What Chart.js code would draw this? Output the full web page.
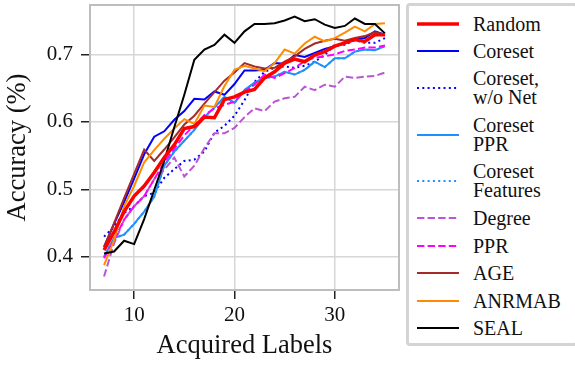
<!DOCTYPE html>
<html>
<head>
<meta charset="utf-8">
<script src="https://cdn.jsdelivr.net/npm/chart.js@4/dist/chart.umd.min.js"></script>
<style>
  body { margin: 0; background: #fff; font-family: "Liberation Serif", serif; }
  #wrap { position: relative; width: 575px; height: 366px; overflow: hidden; }
  #chart { position: absolute; left: 0; top: 0; }
  #legend {
    position: absolute; left: 406px; top: 3px; width: 166px; height: 337px;
    border: 3px solid #d4d4d4; border-radius: 4px; box-sizing: content-box;
  }
  .row { position: relative; height: 27.5px; }
  .row.two { height: 46.5px; }
  .row svg { position: absolute; left: 7px; top: 50%; margin-top: -3px; }
  .row span {
    position: absolute; left: 64px; top: 50%; transform: translateY(-50%);
    font-size: 20px; line-height: 19px; color: #111; white-space: pre;
  }
</style>
</head>
<body>
<div id="wrap">
  <canvas id="chart" width="405" height="366"></canvas>
  <div id="legend"></div>
</div>
<script>
// acquired labels on the x axis
const steps = [7, 8, 9, 10, 11, 12, 13, 14, 15, 16, 17, 18, 19, 20, 21,
  22, 23, 24, 25, 26, 27, 28, 29, 30, 31, 32, 33, 34, 35];

const random = [0.410, 0.437, 0.467, 0.490, 0.505, 0.525, 0.547, 0.566, 0.590, 0.593,
  0.607, 0.606, 0.633, 0.637, 0.644, 0.648, 0.665, 0.674, 0.687, 0.693,
  0.689, 0.699, 0.704, 0.712, 0.717, 0.722, 0.719, 0.729, 0.729];
const coreset = [0.415, 0.449, 0.481, 0.516, 0.552, 0.578, 0.586, 0.603, 0.616, 0.634,
  0.633, 0.645, 0.640, 0.656, 0.676, 0.676, 0.677, 0.687, 0.686, 0.699,
  0.696, 0.702, 0.708, 0.712, 0.716, 0.723, 0.724, 0.734, 0.729];
const coresetNoNet = [0.430, 0.445, 0.465, 0.475, 0.490, 0.495, 0.517, 0.530, 0.542, 0.544,
  0.556, 0.584, 0.594, 0.609, 0.632, 0.659, 0.674, 0.680, 0.682, 0.680,
  0.683, 0.689, 0.699, 0.714, 0.714, 0.721, 0.717, 0.717, 0.724];
const coresetPPR = [0.400, 0.428, 0.433, 0.449, 0.467, 0.489, 0.535, 0.556, 0.572, 0.588,
  0.607, 0.621, 0.637, 0.628, 0.647, 0.658, 0.665, 0.667, 0.674, 0.670,
  0.677, 0.689, 0.681, 0.694, 0.694, 0.704, 0.707, 0.706, 0.712];
const coresetFeatures = [0.400, 0.428, 0.433, 0.449, 0.467, 0.489, 0.535, 0.556, 0.572, 0.588,
  0.607, 0.621, 0.637, 0.628, 0.647, 0.658, 0.665, 0.667, 0.674, 0.670,
  0.677, 0.689, 0.681, 0.694, 0.694, 0.704, 0.707, 0.706, 0.712];
const degree = [0.371, 0.420, 0.455, 0.475, 0.490, 0.515, 0.529, 0.547, 0.519, 0.535,
  0.561, 0.583, 0.583, 0.591, 0.607, 0.620, 0.616, 0.630, 0.635, 0.637,
  0.652, 0.647, 0.655, 0.652, 0.667, 0.665, 0.667, 0.668, 0.673];
const ppr = [0.398, 0.425, 0.455, 0.475, 0.490, 0.515, 0.540, 0.560, 0.580, 0.595,
  0.610, 0.620, 0.625, 0.630, 0.645, 0.655, 0.670, 0.665, 0.672, 0.680,
  0.690, 0.695, 0.697, 0.700, 0.705, 0.707, 0.710, 0.710, 0.713];
const age = [0.415, 0.450, 0.487, 0.523, 0.559, 0.542, 0.559, 0.577, 0.596, 0.609,
  0.627, 0.644, 0.661, 0.673, 0.687, 0.682, 0.679, 0.680, 0.689, 0.697,
  0.708, 0.716, 0.720, 0.723, 0.720, 0.724, 0.727, 0.733, 0.729];
const anrmab = [0.388, 0.425, 0.475, 0.505, 0.540, 0.558, 0.575, 0.590, 0.604, 0.597,
  0.624, 0.622, 0.653, 0.677, 0.683, 0.679, 0.675, 0.687, 0.707, 0.701,
  0.716, 0.726, 0.719, 0.724, 0.732, 0.741, 0.734, 0.745, 0.746];
const seal = [0.405, 0.408, 0.424, 0.419, 0.456, 0.499, 0.542, 0.592, 0.640, 0.692,
  0.707, 0.714, 0.729, 0.717, 0.734, 0.745, 0.745, 0.746, 0.750, 0.756,
  0.749, 0.752, 0.744, 0.739, 0.742, 0.753, 0.745, 0.745, 0.731];

const xTicks = [10, 20, 30];
const yTicks = [0.4, 0.5, 0.6, 0.7];

const DOT = [2, 3.3];
const DASH = [7.4, 3.2];

// label, values, colour, dash, width, draw order (lower = on top)
const series = [
  ["Random", random, "#ff0000", [], 3.5, 0],
  ["Coreset", coreset, "#0000ff", [], 2, 9],
  ["Coreset,\nw/o Net", coresetNoNet, "#0000ff", DOT, 2, 8],
  ["Coreset\nPPR", coresetPPR, "#1e90ff", [], 2, 7],
  ["Coreset\nFeatures", coresetFeatures, "#1e90ff", DOT, 2, 6],
  ["Degree", degree, "#ba55d3", DASH, 2, 5],
  ["PPR", ppr, "#ff00ff", DASH, 2, 4],
  ["AGE", age, "#a52a2a", [], 2, 3],
  ["ANRMAB", anrmab, "#ff8c00", [], 2, 2],
  ["SEAL", seal, "#000000", [], 2, 1]
];

const datasets = series.map(([label, vals, color, dash, width, order]) => ({
  label: label,
  data: steps.map((x, i) => ({ x: x, y: vals[i] })),
  borderColor: color,
  backgroundColor: color,
  borderDash: dash,
  borderWidth: width,
  borderCapStyle: "butt",
  pointRadius: 0,
  tension: 0,
  fill: false,
  order: order
}));

// grey frame round the plot area
const frame = {
  id: "frame",
  afterDatasetsDraw(chart) {
    const a = chart.chartArea;
    const ctx = chart.ctx;
    ctx.save();
    ctx.strokeStyle = "#bdbdbd";
    ctx.lineWidth = 2;
    ctx.strokeRect(a.left, a.top, a.right - a.left, a.bottom - a.top);
    ctx.restore();
  }
};

const tickFont = { family: "Liberation Serif", size: 21 };
const titleFont = { family: "Liberation Serif", size: 26.5 };

new Chart(document.getElementById("chart"), {
  type: "line",
  data: { datasets: datasets },
  options: {
    responsive: false,
    animation: false,
    layout: { padding: { top: 5, right: 6, left: 0, bottom: 0 } },
    plugins: { legend: { display: false }, tooltip: { enabled: false } },
    scales: {
      x: {
        type: "linear",
        min: 5.6,
        max: 36.4,
        afterBuildTicks: s => { s.ticks = xTicks.map(v => ({ value: v })); },
        afterFit: s => { s.height = 76; s.paddingLeft = 0; s.paddingRight = 0; },
        grid: { color: "#d6d6d6", lineWidth: 1.5, tickColor: "#222", tickWidth: 1.5, tickLength: 9 },
        border: { display: false },
        ticks: { color: "#111", font: tickFont, padding: 4, maxRotation: 0 },
        title: { display: true, text: "Acquired Labels", color: "#111", font: titleFont, padding: { top: 0, bottom: 4 } }
      },
      y: {
        min: 0.351,
        max: 0.773,
        afterBuildTicks: s => { s.ticks = yTicks.map(v => ({ value: v })); },
        afterFit: s => { s.width = 90; s.paddingTop = 0; s.paddingBottom = 0; },
        grid: { color: "#d6d6d6", lineWidth: 1.5, tickColor: "#222", tickWidth: 1.5, tickLength: 9 },
        border: { display: false },
        ticks: { color: "#111", font: tickFont, padding: 8, callback: v => v.toFixed(1) },
        title: { display: true, text: "Accuracy (%)", color: "#111", font: titleFont, padding: { top: 2, bottom: 0 } }
      }
    }
  },
  plugins: [frame]
});

// legend box beside the plot
const legend = document.getElementById("legend");
const topGap = document.createElement("div");
topGap.style.height = "4px";
legend.appendChild(topGap);
series.forEach(([label, vals, color, dash, width]) => {
  const row = document.createElement("div");
  row.className = label.includes("\n") ? "row two" : "row";
  const svg = '<svg width="44" height="6"><line x1="1" y1="3" x2="43" y2="3" stroke="' + color +
    '" stroke-width="' + width + '" stroke-dasharray="' + (dash.length ? dash.join(",") : "none") + '"/></svg>';
  row.innerHTML = svg + "<span></span>";
  row.querySelector("span").textContent = label;
  legend.appendChild(row);
});
</script>
</body>
</html>
